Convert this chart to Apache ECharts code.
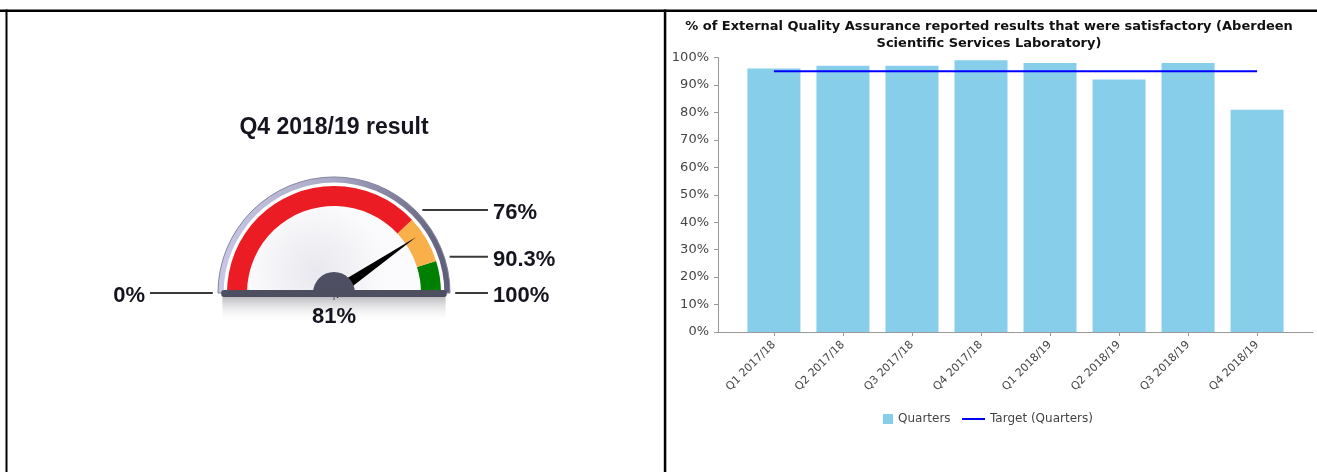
<!DOCTYPE html>
<html><head><meta charset="utf-8">
<script src="https://cdn.jsdelivr.net/npm/echarts@6/dist/echarts.min.js"></script>
<style>html,body{margin:0;padding:0;background:#fff}#c{width:1317px;height:472px}</style>
</head><body><div id="c"></div>
<script>
// ---- data ----
const categories = ['Q1 2017/18','Q2 2017/18','Q3 2017/18','Q4 2017/18','Q1 2018/19','Q2 2018/19','Q3 2018/19','Q4 2018/19'];
const quarters = [96, 97, 97, 99, 98, 92, 98, 81];
const target = [95, 95, 95, 95, 95, 95, 95, 95];
const chartTitle = '% of External Quality Assurance reported results that were satisfactory (Aberdeen\nScientific Services Laboratory)';
const legendNames = ['Quarters', 'Target (Quarters)'];
const gaugeTitle = 'Q4 2018/19 result';
const gaugeValue = 81;
const gaugeBands = [76, 90.3, 100];
const gaugeBandColors = ['#ec1c24', '#f9b04a', '#008000'];
const gaugeScaleMarks = [0, 76, 90.3, 100];

// ---- layout constants ----
const CX = 334, CY = 293, U = 120;
const LBL_FONT = 'bold 22px "Liberation Sans", Arial, sans-serif';
const DARK = '#15151f';

const chart = echarts.init(document.getElementById('c'), null, {renderer: 'canvas'});

function renderBack(params, api) {
  const c = api.coord([0, 0]);
  const R = api.size([1, 0])[0];
  return {type: 'group', children: [
    {type: 'rect', shape: {x: c[0] - 0.93 * R, y: c[1] + 2, width: 1.86 * R, height: 28},
     style: {fill: new echarts.graphic.LinearGradient(0, 0, 0, 1, [
       {offset: 0, color: 'rgba(70,70,85,0.42)'}, {offset: 1, color: 'rgba(255,255,255,0)'}])}},
    {type: 'sector', shape: {cx: c[0], cy: c[1], r0: 0, r: 0.967 * R, startAngle: Math.PI, endAngle: 2 * Math.PI},
     style: {fill: new echarts.graphic.LinearGradient(0, 0, 1, 0, [
       {offset: 0, color: '#c8c8e4'}, {offset: 0.5, color: '#a9a9c6'}, {offset: 1, color: '#5c5c76'}]),
       stroke: '#8585a3', lineWidth: 1}},
    {type: 'sector', shape: {cx: c[0], cy: c[1], r0: 0, r: 0.92 * R, startAngle: Math.PI, endAngle: 2 * Math.PI},
     style: {fill: '#ffffff'}},
    {type: 'sector', shape: {cx: c[0], cy: c[1], r0: 0, r: 0.725 * R, startAngle: Math.PI, endAngle: 2 * Math.PI},
     style: {fill: new echarts.graphic.RadialGradient(0.4, 0.75, 0.8, [
       {offset: 0, color: '#e8e8ee'}, {offset: 1, color: '#fbfbfd'}])}}
  ]};
}

function renderFront(params, api) {
  const c = api.coord([0, 0]);
  const R = api.size([1, 0])[0];
  return {type: 'group', children: [
    {type: 'sector', shape: {cx: c[0], cy: c[1], r0: 0, r: 0.175 * R, startAngle: Math.PI, endAngle: 2 * Math.PI},
     style: {fill: '#4f4f63'}},
    {type: 'rect', shape: {x: c[0] - 0.94 * R, y: c[1] - 3, width: 1.88 * R, height: 7, r: 3},
     style: {fill: '#4e4e61'}},
    {type: 'line', shape: {x1: c[0], y1: c[1] + 4, x2: c[0], y2: c[1] + 7}, style: {stroke: '#4e4e61', lineWidth: 1}}
  ]};
}

function renderMark(params, api) {
  const v = api.value(0);
  const th = Math.PI * (1 - v / 100);
  const r0 = 1.01;
  const yy = r0 * Math.sin(th);
  const right = v > 0;
  const p0 = api.coord([r0 * Math.cos(th), yy]);
  const p1 = api.coord([right ? 1.283 : -1.533, yy]);
  const pl = api.coord([right ? 1.325 : -1.575, yy]);
  return {type: 'group', children: [
    {type: 'line', shape: {x1: p0[0], y1: p0[1], x2: p1[0], y2: p1[1]}, style: {stroke: '#3a3a3a', lineWidth: 2}},
    {type: 'text', x: pl[0], y: pl[1] + 3, style: {text: v + '%', font: LBL_FONT, fill: DARK,
      align: right ? 'left' : 'right', verticalAlign: 'middle'}}
  ]};
}

const idx = categories.map((_, i) => i);

const option = {
  backgroundColor: '#ffffff',
  animation: false,
  title: {
    text: chartTitle, left: 989, top: 18, padding: 0,
    textAlign: 'center', textVerticalAlign: 'top',
    textStyle: {fontSize: 13, fontWeight: 'bold', fontFamily: 'DejaVu Sans', color: '#111', lineHeight: 17}
  },
  legend: [
    {data: [legendNames[0]], left: 883, top: 413, padding: 0, itemWidth: 10, itemHeight: 10, icon: 'rect',
     textStyle: {fontSize: 12, color: '#444', fontFamily: 'DejaVu Sans'}},
    {data: [legendNames[1]], left: 962, top: 413, padding: 0, itemWidth: 23, itemHeight: 2, icon: 'rect',
     textStyle: {fontSize: 12, color: '#444', fontFamily: 'DejaVu Sans'}}
  ],
  grid: [
    {left: 718, right: 4, top: 57.5, bottom: 140},
    {left: CX - 2 * U, top: CY - 1.5 * U, width: 4 * U, height: 2 * U}
  ],
  xAxis: [
    {type: 'value', gridIndex: 0, min: -0.81, max: 7.81,
     axisLine: {show: true, onZero: false, lineStyle: {color: '#999'}},
     axisTick: {show: true, customValues: idx, length: 4, lineStyle: {color: '#999'}},
     axisLabel: {customValues: idx, formatter: v => categories[Math.round(v)], rotate: 45,
       fontSize: 11, color: '#444', fontFamily: 'DejaVu Sans', margin: 11},
     splitLine: {show: false}},
    {type: 'value', gridIndex: 1, min: -2, max: 2, show: false}
  ],
  yAxis: [
    {type: 'value', gridIndex: 0, min: 0, max: 100, interval: 10,
     axisLine: {show: true, onZero: false, lineStyle: {color: '#999'}},
     axisTick: {show: true, length: 4, lineStyle: {color: '#999'}},
     axisLabel: {formatter: '{value}%', fontSize: 13, color: '#444', fontFamily: 'DejaVu Sans', margin: 9},
     splitLine: {show: false}},
    {type: 'value', gridIndex: 1, min: -0.5, max: 1.5, show: false}
  ],
  graphic: [
    {type: 'rect', shape: {x: 0, y: 9.5, width: 1317, height: 2.5}, style: {fill: '#000'}, z: 100},
    {type: 'rect', shape: {x: 5.5, y: 9.5, width: 2, height: 463}, style: {fill: '#000'}, z: 100},
    {type: 'rect', shape: {x: 663.8, y: 9.5, width: 2.5, height: 463}, style: {fill: '#000'}, z: 100}
  ],
  series: [
    {type: 'bar', name: legendNames[0], xAxisIndex: 0, yAxisIndex: 0,
     data: quarters.map((v, i) => [i, v]), barWidth: 53, itemStyle: {color: '#87ceeb'}, z: 2},
    {type: 'line', name: legendNames[1], xAxisIndex: 0, yAxisIndex: 0,
     data: target.map((v, i) => [i, v]), symbol: 'none',
     lineStyle: {color: '#0000ff', width: 2}, itemStyle: {color: '#0000ff'}, z: 3},
    {type: 'custom', xAxisIndex: 1, yAxisIndex: 1, data: [[0]], renderItem: renderBack, z: 1, silent: true},
    {type: 'gauge', center: [CX, CY], radius: 107, startAngle: 180, endAngle: 0, min: 0, max: 100, z: 2,
     axisLine: {lineStyle: {width: 20, color: gaugeBands.map((b, i) => [b / 100, gaugeBandColors[i]])}},
     splitLine: {show: false}, axisTick: {show: false}, axisLabel: {show: false},
     progress: {show: false},
     pointer: {icon: 'triangle', length: '93%', width: 12, itemStyle: {color: '#000'}},
     anchor: {show: false},
     title: {offsetCenter: [0, -165], fontSize: 23, fontWeight: 'bold', color: DARK, fontFamily: 'Liberation Sans'},
     detail: {offsetCenter: [0, 24], fontSize: 22, fontWeight: 'bold', color: DARK, fontFamily: 'Liberation Sans',
       formatter: '{value}%'},
     data: [{value: gaugeValue, name: gaugeTitle}]},
    {type: 'custom', xAxisIndex: 1, yAxisIndex: 1, data: [[0]], renderItem: renderFront, z: 4, silent: true},
    {type: 'custom', xAxisIndex: 1, yAxisIndex: 1, data: gaugeScaleMarks.map(v => [v]), renderItem: renderMark, z: 4, silent: true}
  ]
};
chart.setOption(option);
</script>
</body></html>
